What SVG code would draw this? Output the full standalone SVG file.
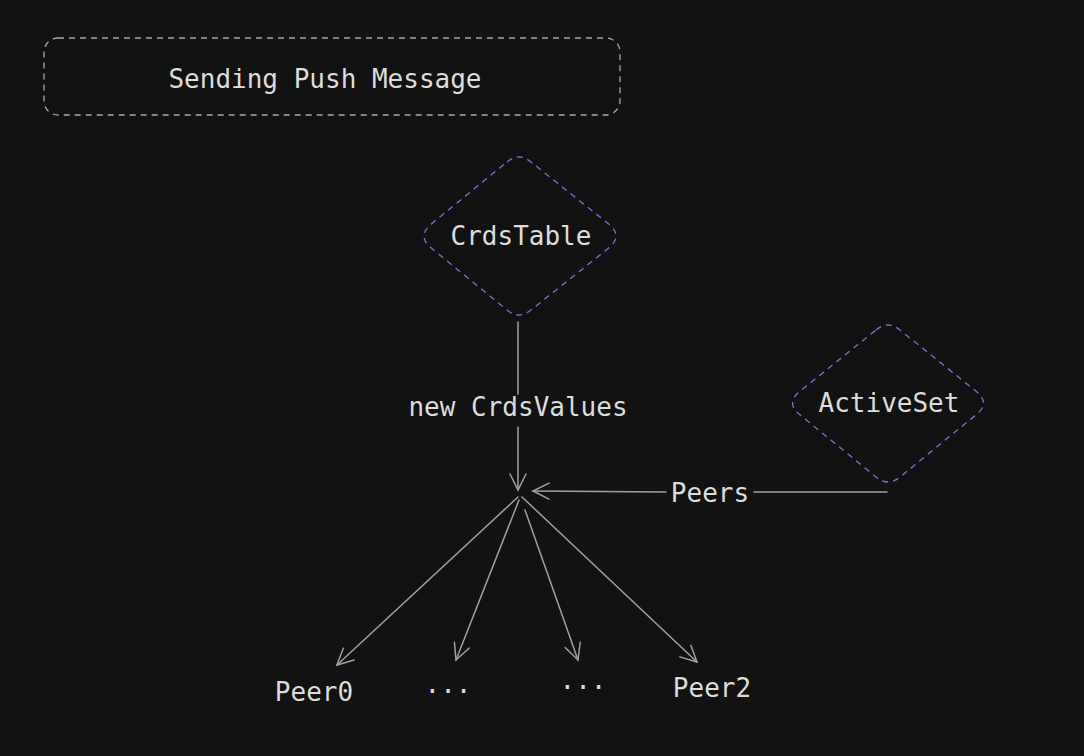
<svg xmlns="http://www.w3.org/2000/svg" width="1084" height="756" viewBox="0 0 1084 756">
<style>
text{font-family:"DejaVu Sans Mono","Liberation Mono",monospace;font-size:26px;fill:#dcdcdc;text-anchor:middle;dominant-baseline:central}
.frame{fill:none;stroke:#a8a8a8;stroke-width:1.3;stroke-dasharray:6 5}
.dia{fill:none;stroke:#7e6fd8;stroke-width:1.3;stroke-dasharray:6 5;stroke-linejoin:round}
.ln{fill:none;stroke:#a0a0a0;stroke-width:1.5;stroke-linecap:round}
</style>
<defs>
<marker id="ah" viewBox="0 0 20 20" refX="18" refY="10" markerWidth="20" markerHeight="20" markerUnits="userSpaceOnUse" orient="auto">
<path d="M2,2 L18,10 L2,18" fill="none" stroke="#a0a0a0" stroke-width="1.5" stroke-linecap="round"/>
</marker>
</defs>
<rect width="1084" height="756" fill="#121212"/>
<g id="title">
<rect class="frame" x="44" y="38" width="576" height="77" rx="14"/>
<text x="325" y="79">Sending Push Message</text>
</g>
<g id="crdstable">
<path class="dia" d="M507,162 Q519,152 531,162 L610,225 Q622,236 610,247 L531,310 Q519,320 507,310 L430,247 Q418,236 430,225 Z"/>
<text x="521" y="236">CrdsTable</text>
</g>
<g id="activeset">
<path class="dia" d="M876,330 Q888,320 900,330 L977,392 Q990,403 977,414 L900,477 Q888,487 876,477 L799,414 Q786,403 799,392 Z"/>
<text x="889" y="403">ActiveSet</text>
</g>
<g id="connectors">
<path class="ln" d="M518,322 L518,394"/>
<path class="ln" d="M518,427 L518,490" marker-end="url(#ah)"/>
<text x="518" y="407">new CrdsValues</text>
<path class="ln" d="M887,492 L754,492"/>
<path class="ln" d="M666,492 L533,491" marker-end="url(#ah)"/>
<text x="710" y="493">Peers</text>
<path class="ln" d="M518,497 L337,665" marker-end="url(#ah)"/>
<path class="ln" d="M519,500 L456,660" marker-end="url(#ah)"/>
<path class="ln" d="M525,510 L578,660" marker-end="url(#ah)"/>
<path class="ln" d="M522,497 L697,662" marker-end="url(#ah)"/>
</g>
<g id="peer0"><text x="314" y="692">Peer0</text></g>
<g id="dots1"><text x="448" y="684">...</text></g>
<g id="dots2"><text x="583" y="680">...</text></g>
<g id="peer2"><text x="712" y="688">Peer2</text></g>
</svg>
